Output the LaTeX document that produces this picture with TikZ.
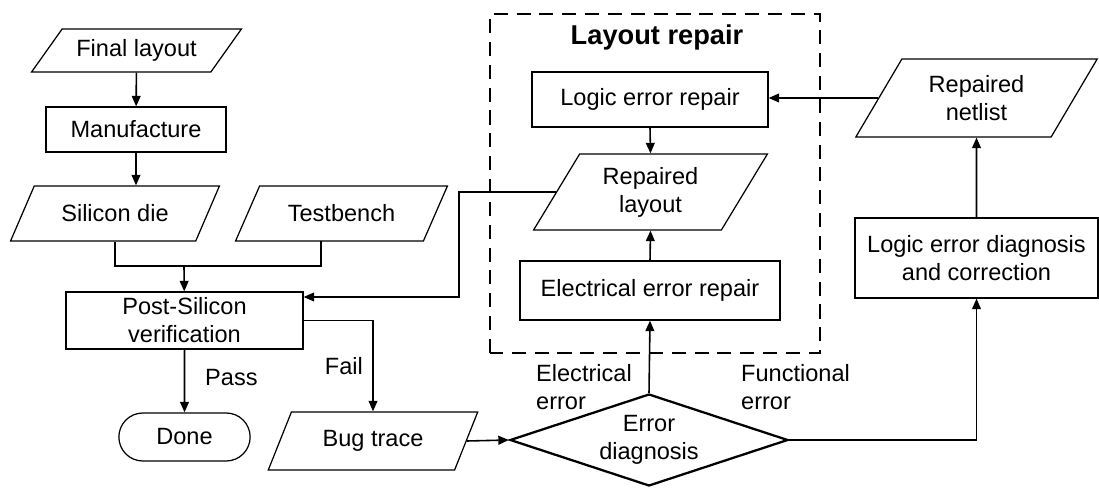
\documentclass[tikz,border=0pt]{standalone}
\usepackage{fontspec}
\setmainfont{Liberation Sans}
\usetikzlibrary{shapes.geometric}
\usetikzlibrary{shapes.misc}
\usetikzlibrary{arrows.meta}

\begin{document}
\begin{tikzpicture}[font=\fontsize{13.4}{16}\selectfont,
    box/.style={draw, line width=0.7pt, align=center, inner sep=2pt},
    io/.style 2 args={draw, line width=0.7pt, trapezium, trapezium left angle=#1, trapezium right angle=#2, trapezium stretches=true, align=center, inner sep=1pt},
    arr/.style={line width=0.9pt, -{Triangle[length=6pt,width=5pt]}},
    wire/.style={line width=0.9pt}]
    \useasboundingbox (0,0) rectangle (21.98,9.76);
    % left column
    \node[io={45}{135}, minimum width=4.22cm, minimum height=0.86cm] (final) at (2.73,8.75) {Final layout};
    \node[box, minimum width=3.6cm, minimum height=0.9cm] (manuf) at (2.72,7.17) {Manufacture};
    \node[io={52}{128}, minimum width=4.2cm, minimum height=1.1cm] (silicon) at (2.30,5.49) {Silicon die};
    \node[io={52}{128}, minimum width=4.26cm, minimum height=1.1cm] (testbench) at (6.83,5.49) {Testbench};
    \node[box, minimum width=4.74cm, minimum height=1.14cm] (post) at (3.69,3.35) {Post-Silicon\\verification};
    \node[draw, line width=0.7pt, rounded rectangle, minimum width=2.86cm, minimum height=0.96cm] (done) at (3.69,1.02) {Done};
    \node[io={59}{121}, minimum width=4.2cm, minimum height=1.16cm] (bug) at (7.46,0.94) {Bug trace};
    \coordinate (tbfoot) at (6.42,4.94);
    \coordinate (merge) at (3.68,4.44);
    \coordinate (fbk) at (9.18,3.82);
    % layout repair
    \draw[line width=1.5pt, dash pattern=on 8pt off 5pt] (9.8,2.7) rectangle (16.4,9.48);
    \node[font=\fontsize{15.5}{18}\selectfont\bfseries] (title) at (13.14,9.02) {Layout repair};
    \node[box, minimum width=4.72cm, minimum height=1.1cm] (logic) at (13.0,7.77) {Logic error repair};
    \node[io={59}{121}, minimum width=4.7cm, minimum height=1.52cm] (rlayout) at (13.01,5.92) {Repaired\\layout};
    \node[box, minimum width=5.2cm, minimum height=1.18cm] (elec) at (13.0,3.95) {Electrical error repair};
    \node[draw, diamond, aspect=3, line width=1.3pt, minimum width=5.56cm, minimum height=1.84cm, inner sep=0pt, align=center] (diag) at (12.98,0.96) {Error\\diagnosis};
    % right column
    \node[io={58}{122}, minimum width=4.86cm, minimum height=1.56cm] (netlist) at (19.53,7.80) {Repaired\\netlist};
    \node[box, minimum width=4.86cm, minimum height=1.6cm] (ldiag) at (19.53,4.60) {Logic error diagnosis\\and correction};
    % connectors
    \draw[arr] (final) -- (manuf);
    \draw[arr] (manuf.south) -- (manuf.south |- silicon.north);
    \draw[wire] (silicon.south) |- (merge) -| (tbfoot);
    \draw[arr] (merge) -- (post);
    \draw[arr] (post) -- (done) node[pos=0.45, right=8pt] (pass) {Pass};
    \draw[arr] (post.east) -| (bug.north) node[pos=0.75, left=2pt] (fail) {Fail};
    \draw[arr] (bug.east) -- (diag.west);
    \draw[arr] (diag.north) -- (elec.south);
    \draw[arr] (elec.north) -- (rlayout.south);
    \draw[arr] (logic.south) -- (rlayout.north);
    \draw[arr] (rlayout.west) -| (fbk) -- (fbk -| post.east);
    \draw[arr] (diag.east) -| (ldiag.south);
    \draw[arr] (ldiag.north) -- (netlist.south);
    \draw[arr] (netlist.west) -- (netlist.west -| logic.east);
    \node[anchor=west, align=left] (elab) at (10.6,2.02) {Electrical\\error};
    \node[anchor=west, align=left] (flab) at (14.7,2.02) {Functional\\error};
\end{tikzpicture}
\end{document}
